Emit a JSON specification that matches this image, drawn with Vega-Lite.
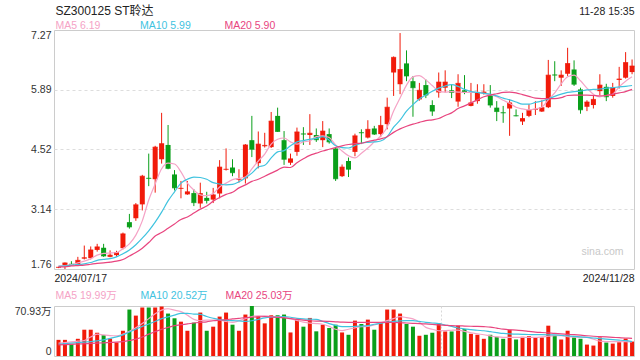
{
"$schema": "https://vega.github.io/schema/vega-lite/v6.json",
"background": "white",
"padding": {"left": 13, "top": 3, "right": 5, "bottom": 5},
"bounds": "flush",
"spacing": 37,
"datasets": {"k": [
{"d":"2024-07-17","i":0,"o":1.79,"h":1.81,"l":1.78,"c":1.80,"v":22.9,"m5":1.83,"m10":1.82,"m20":1.81,"vm5":18.2,"vm10":16.7,"vm20":15.8},
{"d":"2024-07-18","i":1,"o":1.85,"h":1.91,"l":1.76,"c":1.90,"v":22.9,"m5":1.84,"m10":1.83,"m20":1.81,"vm5":19,"vm10":17.5,"vm20":16.2},
{"d":"2024-07-19","i":2,"o":1.88,"h":1.94,"l":1.85,"c":1.86,"v":16.7,"m5":1.86,"m10":1.85,"m20":1.83,"vm5":20,"vm10":18.3,"vm20":16.6},
{"d":"2024-07-22","i":3,"o":1.86,"h":2.04,"l":1.84,"c":1.96,"v":24.4,"m5":1.90,"m10":1.86,"m20":1.84,"vm5":21,"vm10":19,"vm20":17},
{"d":"2024-07-23","i":4,"o":2.00,"h":2.30,"l":1.98,"c":2.02,"v":37.3,"m5":1.94,"m10":1.88,"m20":1.85,"vm5":22,"vm10":19.8,"vm20":17.4},
{"d":"2024-07-24","i":5,"o":2.01,"h":2.28,"l":1.98,"c":2.20,"v":37.3,"m5":2.00,"m10":1.91,"m20":1.87,"vm5":27,"vm10":20.5,"vm20":17.9},
{"d":"2024-07-25","i":6,"o":2.20,"h":2.34,"l":2.16,"c":2.27,"v":33.0,"m5":2.08,"m10":1.96,"m20":1.89,"vm5":31,"vm10":21.5,"vm20":18.3},
{"d":"2024-07-26","i":7,"o":2.25,"h":2.34,"l":2.04,"c":2.06,"v":29.6,"m5":2.12,"m10":1.98,"m20":1.90,"vm5":30,"vm10":23,"vm20":18.7},
{"d":"2024-07-29","i":8,"o":2.04,"h":2.19,"l":2.03,"c":2.08,"v":24.8,"m5":2.13,"m10":2.00,"m20":1.92,"vm5":29,"vm10":25,"vm20":19.2},
{"d":"2024-07-30","i":9,"o":2.08,"h":2.18,"l":2.04,"c":2.14,"v":19.1,"m5":2.14,"m10":2.04,"m20":1.94,"vm5":28.7,"vm10":27.2,"vm20":19.6},
{"d":"2024-07-31","i":10,"o":2.24,"h":2.60,"l":2.21,"c":2.57,"v":35.8,"m5":2.23,"m10":2.11,"m20":1.98,"vm5":31,"vm10":30,"vm20":20.5},
{"d":"2024-08-01","i":11,"o":2.84,"h":3.03,"l":2.69,"c":2.73,"v":65.9,"m5":2.34,"m10":2.20,"m20":2.06,"vm5":35,"vm10":34,"vm20":22},
{"d":"2024-08-02","i":12,"o":2.93,"h":3.28,"l":2.87,"c":3.24,"v":57.3,"m5":2.54,"m10":2.32,"m20":2.14,"vm5":40,"vm10":38,"vm20":23.9},
{"d":"2024-08-05","i":13,"o":3.25,"h":3.93,"l":3.11,"c":3.90,"v":68.8,"m5":2.87,"m10":2.47,"m20":2.24,"vm5":46,"vm10":42,"vm20":27},
{"d":"2024-08-06","i":14,"o":3.86,"h":4.42,"l":3.67,"c":3.85,"v":68.8,"m5":3.35,"m10":2.64,"m20":2.37,"vm5":53,"vm10":45.4,"vm20":31},
{"d":"2024-08-07","i":15,"o":3.83,"h":4.60,"l":3.52,"c":4.57,"v":68.8,"m5":3.72,"m10":2.84,"m20":2.52,"vm5":60,"vm10":49,"vm20":34.5},
{"d":"2024-08-08","i":16,"o":4.29,"h":5.36,"l":4.19,"c":4.65,"v":70.2,"m5":4.07,"m10":3.07,"m20":2.60,"vm5":65,"vm10":53,"vm20":38},
{"d":"2024-08-09","i":17,"o":4.62,"h":5.08,"l":4.06,"c":4.08,"v":60.2,"m5":4.20,"m10":3.33,"m20":2.70,"vm5":67,"vm10":55.5,"vm20":40.5},
{"d":"2024-08-12","i":18,"o":3.94,"h":4.04,"l":3.57,"c":3.63,"v":53.5,"m5":4.18,"m10":3.54,"m20":2.80,"vm5":65,"vm10":58,"vm20":43},
{"d":"2024-08-13","i":19,"o":3.61,"h":3.79,"l":3.39,"c":3.62,"v":48.7,"m5":4.00,"m10":3.74,"m20":2.90,"vm5":63,"vm10":60.5,"vm20":44.4},
{"d":"2024-08-14","i":20,"o":3.48,"h":3.79,"l":3.47,"c":3.54,"v":35.8,"m5":3.74,"m10":3.83,"m20":2.96,"vm5":58,"vm10":60.5,"vm20":45.5},
{"d":"2024-08-15","i":21,"o":3.51,"h":3.60,"l":3.21,"c":3.29,"v":47.3,"m5":3.58,"m10":3.88,"m20":3.05,"vm5":52,"vm10":59.5,"vm20":46.8},
{"d":"2024-08-16","i":22,"o":3.27,"h":3.75,"l":3.17,"c":3.50,"v":61.6,"m5":3.47,"m10":3.87,"m20":3.14,"vm5":50,"vm10":59,"vm20":47.7},
{"d":"2024-08-19","i":23,"o":3.40,"h":3.54,"l":3.27,"c":3.34,"v":35.8,"m5":3.45,"m10":3.83,"m20":3.21,"vm5":51,"vm10":56,"vm20":48.5},
{"d":"2024-08-20","i":24,"o":3.36,"h":3.63,"l":3.28,"c":3.47,"v":41.6,"m5":3.50,"m10":3.75,"m20":3.32,"vm5":51,"vm10":53.5,"vm20":50},
{"d":"2024-08-21","i":25,"o":3.50,"h":4.27,"l":3.39,"c":4.11,"v":55.9,"m5":3.65,"m10":3.72,"m20":3.41,"vm5":51,"vm10":51.5,"vm20":50.8},
{"d":"2024-08-22","i":26,"o":4.05,"h":4.54,"l":4.03,"c":4.06,"v":61.6,"m5":3.74,"m10":3.70,"m20":3.48,"vm5":49,"vm10":50.7,"vm20":51.5},
{"d":"2024-08-23","i":27,"o":4.10,"h":4.29,"l":3.90,"c":3.98,"v":44.4,"m5":3.82,"m10":3.71,"m20":3.53,"vm5":47.7,"vm10":50.2,"vm20":52.6},
{"d":"2024-08-26","i":28,"o":3.82,"h":4.06,"l":3.75,"c":3.83,"v":35.8,"m5":3.85,"m10":3.77,"m20":3.63,"vm5":50,"vm10":49.8,"vm20":53.5},
{"d":"2024-08-27","i":29,"o":3.85,"h":4.64,"l":3.73,"c":4.62,"v":58.8,"m5":3.88,"m10":3.86,"m20":3.70,"vm5":53,"vm10":49.2,"vm20":54.5},
{"d":"2024-08-28","i":30,"o":4.73,"h":5.29,"l":4.34,"c":4.52,"v":70.93,"m5":4.07,"m10":3.97,"m20":3.78,"vm5":56,"vm10":50,"vm20":55},
{"d":"2024-08-29","i":31,"o":4.20,"h":4.93,"l":4.08,"c":4.64,"v":56.8,"m5":4.25,"m10":4.11,"m20":3.83,"vm5":57,"vm10":52,"vm20":55.5},
{"d":"2024-08-30","i":32,"o":4.59,"h":4.90,"l":4.56,"c":4.61,"v":46.3,"m5":4.41,"m10":4.15,"m20":3.90,"vm5":57,"vm10":54,"vm20":56},
{"d":"2024-09-02","i":33,"o":4.57,"h":5.38,"l":4.55,"c":5.17,"v":57.8,"m5":4.64,"m10":4.32,"m20":3.97,"vm5":56,"vm10":55,"vm20":55.5},
{"d":"2024-09-03","i":34,"o":5.29,"h":5.48,"l":4.92,"c":4.93,"v":57.8,"m5":4.75,"m10":4.46,"m20":4.04,"vm5":55.5,"vm10":55.5,"vm20":54.8},
{"d":"2024-09-04","i":35,"o":4.73,"h":4.94,"l":4.16,"c":4.29,"v":58.8,"m5":4.78,"m10":4.49,"m20":4.11,"vm5":55,"vm10":56,"vm20":54},
{"d":"2024-09-05","i":36,"o":4.21,"h":4.42,"l":4.16,"c":4.30,"v":33.4,"m5":4.69,"m10":4.60,"m20":4.10,"vm5":53,"vm10":55,"vm20":53},
{"d":"2024-09-06","i":37,"o":4.46,"h":5.02,"l":4.37,"c":4.92,"v":52.0,"m5":4.64,"m10":4.69,"m20":4.21,"vm5":50.5,"vm10":53.5,"vm20":52},
{"d":"2024-09-09","i":38,"o":4.88,"h":5.03,"l":4.62,"c":4.87,"v":41.6,"m5":4.69,"m10":4.72,"m20":4.30,"vm5":48,"vm10":52.6,"vm20":51},
{"d":"2024-09-10","i":39,"o":4.85,"h":5.33,"l":4.62,"c":4.89,"v":54.0,"m5":4.71,"m10":4.75,"m20":4.38,"vm5":46.5,"vm10":52.2,"vm20":50},
{"d":"2024-09-11","i":40,"o":4.85,"h":5.00,"l":4.69,"c":4.74,"v":35.0,"m5":4.81,"m10":4.77,"m20":4.43,"vm5":46,"vm10":52,"vm20":49.5},
{"d":"2024-09-12","i":41,"o":4.73,"h":5.17,"l":4.57,"c":4.94,"v":44.4,"m5":4.83,"m10":4.81,"m20":4.48,"vm5":45,"vm10":49,"vm20":49.5},
{"d":"2024-09-13","i":42,"o":4.87,"h":5.00,"l":4.65,"c":4.69,"v":39.7,"m5":4.79,"m10":4.73,"m20":4.52,"vm5":42,"vm10":46,"vm20":49},
{"d":"2024-09-18","i":43,"o":4.54,"h":4.56,"l":3.79,"c":3.84,"v":44.4,"m5":4.62,"m10":4.60,"m20":4.56,"vm5":38,"vm10":43.5,"vm20":48.5},
{"d":"2024-09-19","i":44,"o":3.90,"h":4.17,"l":3.88,"c":4.11,"v":33.4,"m5":4.48,"m10":4.56,"m20":4.60,"vm5":36,"vm10":41.8,"vm20":48},
{"d":"2024-09-20","i":45,"o":4.25,"h":4.33,"l":3.88,"c":4.06,"v":30.1,"m5":4.37,"m10":4.55,"m20":4.63,"vm5":38,"vm10":41.6,"vm20":47.7},
{"d":"2024-09-23","i":46,"o":4.46,"h":4.88,"l":4.36,"c":4.83,"v":50.2,"m5":4.32,"m10":4.61,"m20":4.65,"vm5":40,"vm10":42,"vm20":47.7},
{"d":"2024-09-24","i":47,"o":4.91,"h":4.98,"l":4.64,"c":4.90,"v":45.4,"m5":4.43,"m10":4.66,"m20":4.66,"vm5":41.6,"vm10":42.5,"vm20":47.7},
{"d":"2024-09-25","i":48,"o":4.79,"h":5.19,"l":4.77,"c":4.98,"v":51.6,"m5":4.55,"m10":4.68,"m20":4.70,"vm5":42,"vm10":43,"vm20":47.7},
{"d":"2024-09-26","i":49,"o":5.00,"h":5.06,"l":4.85,"c":4.87,"v":37.3,"m5":4.69,"m10":4.69,"m20":4.73,"vm5":44,"vm10":45,"vm20":47.7},
{"d":"2024-09-27","i":50,"o":4.87,"h":5.29,"l":4.80,"c":5.07,"v":46.8,"m5":4.83,"m10":4.71,"m20":4.76,"vm5":47,"vm10":46.5,"vm20":47.7},
{"d":"2024-09-30","i":51,"o":5.10,"h":5.71,"l":4.98,"c":5.49,"v":65.9,"m5":5.03,"m10":4.81,"m20":4.81,"vm5":50.2,"vm10":48,"vm20":47.7},
{"d":"2024-10-08","i":52,"o":6.29,"h":6.66,"l":5.75,"c":6.64,"v":65.9,"m5":5.40,"m10":5.03,"m20":4.91,"vm5":53,"vm10":49,"vm20":47.5},
{"d":"2024-10-09","i":53,"o":6.02,"h":7.20,"l":5.79,"c":6.36,"v":60.2,"m5":5.70,"m10":5.19,"m20":4.99,"vm5":55.9,"vm10":49.8,"vm20":47.2},
{"d":"2024-10-10","i":54,"o":6.50,"h":6.80,"l":6.09,"c":6.21,"v":45.4,"m5":6.00,"m10":5.40,"m20":5.05,"vm5":54.5,"vm10":50.2,"vm20":46.8},
{"d":"2024-10-11","i":55,"o":6.09,"h":6.21,"l":5.27,"c":5.94,"v":41.6,"m5":6.19,"m10":5.55,"m20":5.10,"vm5":52.6,"vm10":50.2,"vm20":46.4},
{"d":"2024-10-14","i":56,"o":5.67,"h":6.05,"l":5.64,"c":5.88,"v":28.7,"m5":6.22,"m10":5.68,"m20":5.14,"vm5":48,"vm10":49,"vm20":46},
{"d":"2024-10-15","i":57,"o":6.00,"h":6.13,"l":5.70,"c":5.77,"v":30.1,"m5":6.12,"m10":5.77,"m20":5.18,"vm5":40.6,"vm10":47.8,"vm20":45.5},
{"d":"2024-10-16","i":58,"o":5.54,"h":5.65,"l":5.29,"c":5.40,"v":33.0,"m5":5.99,"m10":5.86,"m20":5.20,"vm5":38,"vm10":46.8,"vm20":44.8},
{"d":"2024-10-17","i":59,"o":5.83,"h":6.29,"l":5.71,"c":6.07,"v":46.3,"m5":5.86,"m10":5.93,"m20":5.23,"vm5":35.8,"vm10":46,"vm20":44},
{"d":"2024-10-18","i":60,"o":5.94,"h":6.34,"l":5.83,"c":6.07,"v":34.8,"m5":5.84,"m10":5.98,"m20":5.30,"vm5":36,"vm10":44,"vm20":43.5},
{"d":"2024-10-21","i":61,"o":5.88,"h":6.02,"l":5.70,"c":5.83,"v":34.8,"m5":5.85,"m10":6.01,"m20":5.36,"vm5":36.5,"vm10":42,"vm20":43},
{"d":"2024-10-22","i":62,"o":5.62,"h":6.25,"l":5.50,"c":6.04,"v":43.0,"m5":5.84,"m10":5.97,"m20":5.46,"vm5":36.8,"vm10":39.7,"vm20":42.8},
{"d":"2024-10-23","i":63,"o":5.88,"h":6.23,"l":5.79,"c":5.83,"v":38.2,"m5":5.83,"m10":5.90,"m20":5.52,"vm5":35,"vm10":38.5,"vm20":42.5},
{"d":"2024-10-24","i":64,"o":5.52,"h":6.05,"l":5.51,"c":5.59,"v":31.5,"m5":5.83,"m10":5.85,"m20":5.59,"vm5":33,"vm10":37.5,"vm20":42.2},
{"d":"2024-10-25","i":65,"o":5.63,"h":6.02,"l":5.57,"c":5.83,"v":30.1,"m5":5.83,"m10":5.83,"m20":5.66,"vm5":31.5,"vm10":36.5,"vm20":42},
{"d":"2024-10-28","i":66,"o":5.82,"h":6.02,"l":5.78,"c":5.84,"v":24.4,"m5":5.81,"m10":5.81,"m20":5.73,"vm5":30.1,"vm10":35.8,"vm20":41.6},
{"d":"2024-10-29","i":67,"o":5.79,"h":6.00,"l":5.48,"c":5.54,"v":30.1,"m5":5.78,"m10":5.79,"m20":5.77,"vm5":28.5,"vm10":34.5,"vm20":41},
{"d":"2024-10-30","i":68,"o":5.48,"h":5.63,"l":5.17,"c":5.39,"v":27.2,"m5":5.73,"m10":5.75,"m20":5.80,"vm5":27,"vm10":33.2,"vm20":39.5},
{"d":"2024-10-31","i":69,"o":5.37,"h":5.52,"l":5.13,"c":5.36,"v":24.4,"m5":5.65,"m10":5.70,"m20":5.83,"vm5":26.3,"vm10":32,"vm20":38},
{"d":"2024-11-01","i":70,"o":5.46,"h":5.67,"l":4.83,"c":5.59,"v":37.3,"m5":5.58,"m10":5.66,"m20":5.84,"vm5":26.3,"vm10":31.3,"vm20":37.2},
{"d":"2024-11-04","i":71,"o":5.30,"h":5.44,"l":5.28,"c":5.29,"v":23.4,"m5":5.49,"m10":5.61,"m20":5.82,"vm5":26.3,"vm10":31,"vm20":36.8},
{"d":"2024-11-05","i":72,"o":5.16,"h":5.36,"l":5.08,"c":5.23,"v":27.2,"m5":5.45,"m10":5.56,"m20":5.78,"vm5":26.3,"vm10":30.7,"vm20":36},
{"d":"2024-11-06","i":73,"o":5.29,"h":5.56,"l":5.26,"c":5.42,"v":28.2,"m5":5.43,"m10":5.56,"m20":5.74,"vm5":26.3,"vm10":30.5,"vm20":35},
{"d":"2024-11-07","i":74,"o":5.43,"h":5.63,"l":5.31,"c":5.44,"v":26.3,"m5":5.45,"m10":5.60,"m20":5.70,"vm5":26.3,"vm10":30.3,"vm20":34},
{"d":"2024-11-08","i":75,"o":5.39,"h":5.65,"l":5.38,"c":5.48,"v":26.3,"m5":5.49,"m10":5.63,"m20":5.69,"vm5":27,"vm10":30.2,"vm20":33.3},
{"d":"2024-11-11","i":76,"o":5.49,"h":6.58,"l":5.47,"c":6.23,"v":43.0,"m5":5.66,"m10":5.68,"m20":5.69,"vm5":28,"vm10":30.1,"vm20":32.7},
{"d":"2024-11-12","i":77,"o":6.24,"h":6.55,"l":6.09,"c":6.23,"v":29.1,"m5":5.82,"m10":5.74,"m20":5.69,"vm5":28.7,"vm10":30,"vm20":32},
{"d":"2024-11-13","i":78,"o":6.17,"h":6.34,"l":5.98,"c":6.23,"v":23.4,"m5":6.03,"m10":5.79,"m20":5.71,"vm5":28.7,"vm10":29.2,"vm20":31.5},
{"d":"2024-11-14","i":79,"o":6.26,"h":6.86,"l":6.21,"c":6.50,"v":35.8,"m5":6.19,"m10":5.83,"m20":5.76,"vm5":27.5,"vm10":28.5,"vm20":30.8},
{"d":"2024-11-15","i":80,"o":6.36,"h":6.57,"l":5.98,"c":6.02,"v":26.3,"m5":6.23,"m10":5.85,"m20":5.77,"vm5":27,"vm10":27.8,"vm20":30.2},
{"d":"2024-11-18","i":81,"o":5.90,"h":5.94,"l":5.34,"c":5.43,"v":24.4,"m5":6.10,"m10":5.86,"m20":5.77,"vm5":26.5,"vm10":27,"vm20":29.5},
{"d":"2024-11-19","i":82,"o":5.50,"h":5.65,"l":5.40,"c":5.61,"v":16.2,"m5":5.93,"m10":5.89,"m20":5.77,"vm5":26.3,"vm10":26.3,"vm20":28.7},
{"d":"2024-11-20","i":83,"o":5.54,"h":5.79,"l":5.46,"c":5.67,"v":14.8,"m5":5.79,"m10":5.90,"m20":5.76,"vm5":24,"vm10":25.5,"vm20":28},
{"d":"2024-11-21","i":84,"o":5.86,"h":6.25,"l":5.77,"c":6.00,"v":26.3,"m5":5.73,"m10":5.91,"m20":5.75,"vm5":21,"vm10":24.7,"vm20":27.5},
{"d":"2024-11-22","i":85,"o":5.96,"h":6.03,"l":5.63,"c":5.73,"v":19.1,"m5":5.76,"m10":5.93,"m20":5.76,"vm5":20.5,"vm10":24,"vm20":27},
{"d":"2024-11-25","i":86,"o":5.75,"h":6.05,"l":5.71,"c":5.94,"v":17.6,"m5":5.79,"m10":5.94,"m20":5.79,"vm5":20.5,"vm10":23.2,"vm20":26.5},
{"d":"2024-11-26","i":87,"o":6.12,"h":6.42,"l":5.92,"c":6.14,"v":19.6,"m5":5.96,"m10":5.96,"m20":5.82,"vm5":20.5,"vm10":22.5,"vm20":26},
{"d":"2024-11-27","i":88,"o":6.17,"h":6.76,"l":6.15,"c":6.52,"v":24.8,"m5":6.09,"m10":5.97,"m20":5.85,"vm5":20.3,"vm10":21.7,"vm20":25.5},
{"d":"2024-11-28","i":89,"o":6.30,"h":6.59,"l":6.25,"c":6.44,"v":20.5,"m5":6.19,"m10":5.99,"m20":5.90,"vm5":19.99,"vm10":20.52,"vm20":25.03}
]},
"config": {
  "font": "Liberation Sans, Noto Sans CJK SC",
  "view": {"stroke": "#cccccc", "strokeWidth": 1},
  "axis": {"domain": false, "ticks": false, "grid": false, "labelFontSize": 10.5, "labelColor": "#333333", "titleFontWeight": "normal"},
  "legend": {"padding": 0}
},
"resolve": {"scale": {"color": "independent"}},
"vconcat": [
{
  "width": 580,
  "height": 239,
  "data": {"name": "k"},
  "resolve": {"axis": {"x": "independent"}},
  "layer": [
    {
      "mark": {"type": "rule", "strokeWidth": 1},
      "encoding": {
        "x": {"field": "i", "type": "quantitative", "scale": {"domain": [-0.7, 89.3], "nice": false, "zero": false, "padding": 0},
          "axis": {"orient": "bottom", "values": [-0.7, 89.3], "labelExpr": "datum.value < 0 ? '2024/07/17' : '2024/11/28'", "labelFlush": false,
            "labelAlign": {"condition": {"test": "datum.value < 0", "value": "left"}, "value": "right"},
            "labelPadding": 4, "labelColor": "#222222", "labelFontSize": 10.5,
            "title": "sina.com", "titleX": 569, "titleY": -15, "titleAlign": "right", "titleBaseline": "alphabetic", "titleColor": "#c8c8c8", "titleFontSize": 10.5, "titleFontWeight": "normal"}},
        "y": {"field": "l", "type": "quantitative", "scale": {"domain": [1.76, 7.27], "nice": false, "zero": false, "padding": 0},
          "axis": {"orient": "left", "values": [1.76, 3.14, 4.52, 5.89, 7.27], "format": ".2f", "labelFlush": true, "labelPadding": 3, "title": null,
            "grid": true, "gridColor": "#dddddd", "gridDash": [3, 3], "gridWidth": 1.2,
            "gridOpacity": {"condition": {"test": "datum.value < 2 || datum.value > 7", "value": 0}, "value": 1}}},
        "y2": {"field": "h"},
        "color": {"condition": {"test": "datum.c >= datum.o", "value": "#f11a0a"}, "value": "#0a9f1a"}
      }
    },
    {
      "mark": {"type": "bar", "size": 5},
      "encoding": {
        "x": {"field": "i", "type": "quantitative", "axis": null},
        "y": {"field": "o", "type": "quantitative"},
        "y2": {"field": "c"},
        "color": {"condition": {"test": "datum.c >= datum.o", "value": "#f11a0a"}, "value": "#0a9f1a"}
      }
    },
    {
      "mark": {"type": "tick", "orient": "horizontal", "thickness": 1, "size": 5},
      "encoding": {
        "x": {"field": "i", "type": "quantitative", "axis": null},
        "y": {"field": "c", "type": "quantitative"},
        "color": {"condition": {"test": "datum.c >= datum.o", "value": "#f11a0a"}, "value": "#0a9f1a"}
      }
    },
    {
      "mark": {"type": "line", "strokeWidth": 1.2, "interpolate": "monotone"},
      "encoding": {
        "x": {"field": "i", "type": "quantitative",
          "axis": {"orient": "top", "labels": false, "title": "SZ300125 ST聆达", "titleX": 1, "titleY": -16, "titleAlign": "left", "titleBaseline": "alphabetic", "titleFontSize": 12, "titleColor": "#222222", "titleFontWeight": "normal"}},
        "y": {"field": "m5", "type": "quantitative"},
        "color": {"datum": "MA5 6.19", "type": "nominal",
          "scale": {"domain": ["MA5 6.19", "MA10 5.99", "MA20 5.90"], "range": ["#f5a3c6", "#3fc3df", "#e8457f"]},
          "legend": {"orient": "none", "legendX": -9, "legendY": -9, "direction": "horizontal", "title": null,
            "symbolSize": 0, "symbolStrokeWidth": 0, "symbolOpacity": 0, "labelOffset": 0, "gridAlign": "all", "columnPadding": 22.5,
            "labelFontSize": 10.5, "labelBaseline": "middle",
            "labelColor": {"expr": "datum.label == 'MA5 6.19' ? '#f5a3c6' : datum.label == 'MA10 5.99' ? '#3fc3df' : '#e8457f'"}}}
      }
    },
    {
      "mark": {"type": "line", "strokeWidth": 1.2, "interpolate": "monotone"},
      "encoding": {
        "x": {"field": "i", "type": "quantitative",
          "axis": {"orient": "top", "labels": false, "title": "11-28 15:35", "titleX": 580, "titleY": -16, "titleAlign": "right", "titleBaseline": "alphabetic", "titleFontSize": 10.5, "titleColor": "#222222", "titleFontWeight": "normal"}},
        "y": {"field": "m10", "type": "quantitative"},
        "color": {"datum": "MA10 5.99", "type": "nominal"}
      }
    },
    {
      "mark": {"type": "line", "strokeWidth": 1.2, "interpolate": "monotone"},
      "encoding": {
        "x": {"field": "i", "type": "quantitative", "axis": null},
        "y": {"field": "m20", "type": "quantitative"},
        "color": {"datum": "MA20 5.90", "type": "nominal"}
      }
    }
  ]
},
{
  "width": 580,
  "height": 50,
  "data": {"name": "k"},
  "layer": [
    {
      "mark": {"type": "bar", "size": 4},
      "encoding": {
        "x": {"field": "i", "type": "quantitative", "scale": {"domain": [-0.7, 89.3], "nice": false, "zero": false, "padding": 0},
          "axis": {"values": [59.4], "labels": false, "title": null, "grid": true, "gridColor": "#d8d8d8", "gridDash": [2, 2]}},
        "y": {"field": "v", "type": "quantitative", "scale": {"domain": [0, 70.93], "nice": false, "padding": 0},
          "axis": {"values": [0, 70.93], "labelExpr": "datum.value == 0 ? '0' : '70.93万'", "labelFlush": true, "labelPadding": 3, "title": null}},
        "color": {"condition": {"test": "datum.c >= datum.o", "value": "#f11a0a"}, "value": "#0a9f1a"}
      }
    },
    {
      "mark": {"type": "line", "strokeWidth": 1.2, "interpolate": "monotone"},
      "encoding": {
        "x": {"field": "i", "type": "quantitative"},
        "y": {"field": "vm5", "type": "quantitative"},
        "color": {"datum": "MA5 19.99万", "type": "nominal",
          "scale": {"domain": ["MA5 19.99万", "MA10 20.52万", "MA20 25.03万"], "range": ["#f5a3c6", "#3fc3df", "#e8457f"]},
          "legend": {"orient": "none", "legendX": -9, "legendY": -15, "direction": "horizontal", "title": null,
            "symbolSize": 0, "symbolStrokeWidth": 0, "symbolOpacity": 0, "labelOffset": 0, "gridAlign": "all", "columnPadding": 7,
            "labelFontSize": 10.5, "labelBaseline": "middle",
            "labelColor": {"expr": "datum.label == 'MA5 19.99万' ? '#f5a3c6' : datum.label == 'MA10 20.52万' ? '#3fc3df' : '#e8457f'"}}}
      }
    },
    {
      "mark": {"type": "line", "strokeWidth": 1.2, "interpolate": "monotone"},
      "encoding": {
        "x": {"field": "i", "type": "quantitative"},
        "y": {"field": "vm10", "type": "quantitative"},
        "color": {"datum": "MA10 20.52万", "type": "nominal"}
      }
    },
    {
      "mark": {"type": "line", "strokeWidth": 1.2, "interpolate": "monotone"},
      "encoding": {
        "x": {"field": "i", "type": "quantitative"},
        "y": {"field": "vm20", "type": "quantitative"},
        "color": {"datum": "MA20 25.03万", "type": "nominal"}
      }
    }
  ]
}
]
}
